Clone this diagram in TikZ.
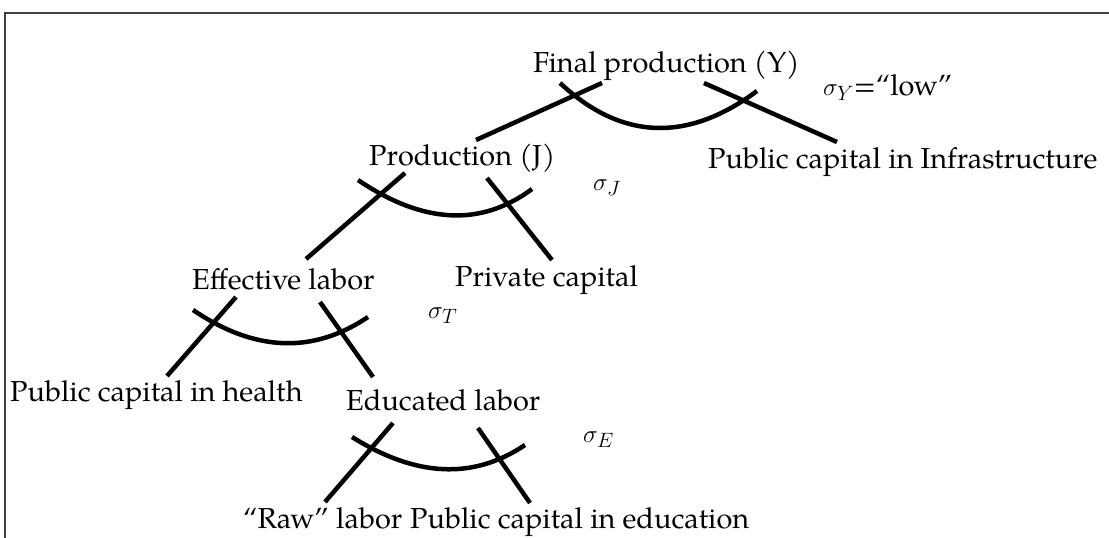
\documentclass[tikz,border=0pt]{standalone}
\usepackage{fontspec}
\setmainfont{TeX Gyre Pagella}
\begin{document}
\begin{tikzpicture}[x=1pt,y=-1pt,
    lbl/.style={anchor=base west,inner sep=0pt,font=\fontsize{28.9}{34}\selectfont},
    branch/.style={line width=4.5pt},
    frame/.style={line width=2pt,black!75}]
    \useasboundingbox (0,0) rectangle (1109,538);
    \draw[frame] (5,538) -- (5,13) -- (1109,13);
    % labels
    \node[lbl] (fy)  at (533,72)  {Final production (Y)};
    \node[lbl] (sy)  at (823,95)  {$\sigma_Y$=``low''};
    \node[lbl] (inf) at (708,168) {Public capital in Infrastructure};
    \node[lbl] (pj)  at (369,165) {Production (J)};
    \node[lbl] (sj)  at (593,190) {$\sigma_J$};
    \node[lbl] (el)  at (192,289) {Effective labor};
    \node[lbl] (pc)  at (455,286) {Private capital};
    \node[lbl] (st)  at (428,318) {$\sigma_T$};
    \node[lbl] (ph)  at (10,401)  {Public capital in health};
    \node[lbl] (ed)  at (346,410) {Educated labor};
    \node[lbl] (se)  at (583,442) {$\sigma_E$};
    \node[lbl] (raw) at (243,528) {``Raw'' labor};
    \node[lbl] (pe)  at (410,528) {Public capital in education};
    % branch ends
    \coordinate (y1) at (602,83);  \coordinate (y2) at (476,140);
    \coordinate (y3) at (704,83);  \coordinate (y4) at (837,142);
    \coordinate (j1) at (405,173); \coordinate (j2) at (306,259);
    \coordinate (j3) at (487,178); \coordinate (j4) at (552,260);
    \coordinate (t1) at (236,297); \coordinate (t2) at (167,376);
    \coordinate (t3) at (320,302); \coordinate (t4) at (373,377);
    \coordinate (e1) at (393,423); \coordinate (e2) at (325,502);
    \coordinate (e3) at (478,428); \coordinate (e4) at (530,503);
    \foreach \n in {y,j,t,e}{
        \draw[branch] (\n1) -- (\n2);
        \draw[branch] (\n3) -- (\n4);
    }
    % substitution arcs
    \draw[branch] (560,83) .. controls (621,140) and (687,143) .. (757,91);
    \draw[branch] (358,180) .. controls (423,224) and (481,227) .. (532,189);
    \draw[branch] (193,310) .. controls (255,352) and (313,354) .. (368,317);
    \draw[branch] (352,437) .. controls (416,477) and (473,480) .. (525,445);
\end{tikzpicture}
\end{document}
